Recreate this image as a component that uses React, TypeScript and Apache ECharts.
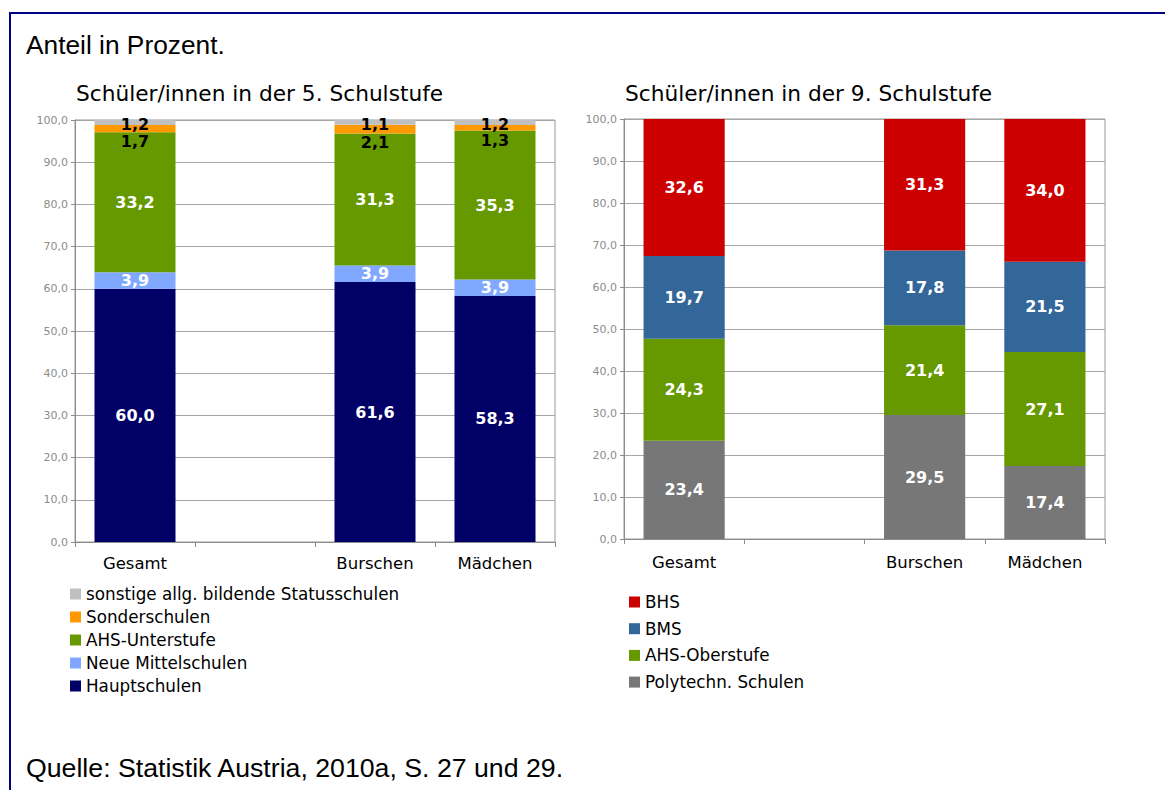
import React, { useEffect, useRef } from "react";
import * as echarts from "echarts";

const categories = ["Gesamt", "", "Burschen", "Mädchen"];

// 5. Schulstufe (bottom to top)
const hauptschulen = [60.0, "-", 61.6, 58.3];
const neueMittelschulen = [3.9, "-", 3.9, 3.9];
const ahsUnterstufe = [33.2, "-", 31.3, 35.3];
const sonderschulen = [1.7, "-", 2.1, 1.3];
const sonstige = [1.2, "-", 1.1, 1.2];

// 9. Schulstufe (bottom to top)
const polytechn = [23.4, "-", 29.5, 17.4];
const ahsOberstufe = [24.3, "-", 21.4, 27.1];
const bms = [19.7, "-", 17.8, 21.5];
const bhs = [32.6, "-", 31.3, 34.0];

const yTicks = { min: 0, max: 100, interval: 10 };

const FONT = "DejaVu Sans";
const fmt = (v: number) => v.toFixed(1).replace(".", ",");

export default function App() {
  const ref = useRef<HTMLDivElement>(null);
  useEffect(() => {
    if (!ref.current) return;
    const chart = echarts.init(ref.current, undefined, { renderer: "svg" });

    const barLabel = (color: string, extra: any = {}) => ({
      show: true,
      position: "inside",
      color,
      fontFamily: FONT,
      fontWeight: "bold",
      fontSize: 16,
      formatter: (p: any) => fmt(Number(p.value)),
      ...extra,
    });

    const mkSeries = (
      name: string,
      data: any[],
      color: string,
      idx: number,
      labelColor: string,
      labelExtra: any = {}
    ) => ({
      name,
      type: "bar",
      stack: idx === 0 ? "left" : "right",
      xAxisIndex: idx,
      yAxisIndex: idx,
      data,
      barWidth: "67.5%",
      itemStyle: { color },
      label: barLabel(labelColor, labelExtra),
      emphasis: { disabled: true },
    });

    const xAxis = (gridIndex: number, margin: number) => ({
      type: "category",
      gridIndex,
      data: categories,
      axisLine: { show: true, lineStyle: { color: "#8c8c8c", width: 1 } },
      axisTick: { show: true, length: 5, lineStyle: { color: "#8c8c8c" } },
      axisLabel: {
        color: "#000",
        fontFamily: FONT,
        fontSize: 16.5,
        margin,
        interval: 0,
      },
    });

    const yAxis = (gridIndex: number) => ({
      type: "value",
      gridIndex,
      min: yTicks.min,
      max: yTicks.max,
      interval: yTicks.interval,
      axisLine: { show: true, lineStyle: { color: "#8c8c8c", width: 1 } },
      axisTick: { show: true, length: 4, lineStyle: { color: "#8c8c8c" } },
      splitLine: { show: true, lineStyle: { color: "#a6a6a6", width: 1 } },
      axisLabel: {
        color: "#8c8c8c",
        fontFamily: FONT,
        fontSize: 11,
        margin: 7,
        formatter: (v: number) => fmt(v),
      },
    });

    const legendText = {
      color: "#000",
      fontFamily: FONT,
      fontSize: 16.8,
      lineHeight: 18,
    };

    chart.setOption({
      animation: false,
      backgroundColor: "#fff",
      grid: [
        { left: 75, top: 120, width: 480, height: 422, show: true, borderColor: "#999", borderWidth: 1, containLabel: false },
        { left: 624, top: 119, width: 481, height: 420, show: true, borderColor: "#999", borderWidth: 1, containLabel: false },
      ],
      xAxis: [xAxis(0, 13), xAxis(1, 15)],
      yAxis: [yAxis(0), yAxis(1)],
      legend: [
        {
          orient: "vertical",
          left: 70,
          top: 585,
          itemWidth: 11,
          itemHeight: 11,
          itemGap: 5,
          icon: "rect",
          selectedMode: false,
          padding: 0,
          textStyle: legendText,
          data: ["sonstige allg. bildende Statusschulen", "Sonderschulen", "AHS-Unterstufe", "Neue Mittelschulen", "Hauptschulen"],
        },
        {
          orient: "vertical",
          left: 629,
          top: 593,
          itemWidth: 11,
          itemHeight: 11,
          itemGap: 8.7,
          icon: "rect",
          selectedMode: false,
          padding: 0,
          textStyle: legendText,
          data: ["BHS", "BMS", "AHS-Oberstufe", "Polytechn. Schulen"],
        },
      ],
      graphic: [
        {
          type: "rect",
          shape: { x: 10, y: 13, width: 1300, height: 900 },
          style: { fill: "none", stroke: "#000080", lineWidth: 2 },
          silent: true,
        },
        {
          type: "text",
          style: { text: "Anteil in Prozent.", x: 26, y: 45, font: "26.3px 'Liberation Sans'", fill: "#000", verticalAlign: "middle" },
        },
        {
          type: "text",
          style: { text: "Schüler/innen in der 5. Schulstufe", x: 76, y: 93, font: "21.7px 'DejaVu Sans'", fill: "#000", verticalAlign: "middle" },
        },
        {
          type: "text",
          style: { text: "Schüler/innen in der 9. Schulstufe", x: 625, y: 93, font: "21.7px 'DejaVu Sans'", fill: "#000", verticalAlign: "middle" },
        },
        {
          type: "text",
          style: { text: "Quelle: Statistik Austria, 2010a, S. 27 und 29.", x: 26, y: 768, font: "26.7px 'Liberation Sans'", fill: "#000", verticalAlign: "middle" },
        },
      ],
      series: [
        mkSeries("Hauptschulen", hauptschulen, "#000066", 0, "#fff"),
        mkSeries("Neue Mittelschulen", neueMittelschulen, "#80A8FF", 0, "#fff"),
        mkSeries("AHS-Unterstufe", ahsUnterstufe, "#669900", 0, "#fff"),
        mkSeries("Sonderschulen", sonderschulen, "#FF9900", 0, "#000", { offset: [0, 13] }),
        mkSeries("sonstige allg. bildende Statusschulen", sonstige, "#C0C0C0", 0, "#000", { offset: [0, 2] }),
        mkSeries("Polytechn. Schulen", polytechn, "#777777", 1, "#fff"),
        mkSeries("AHS-Oberstufe", ahsOberstufe, "#669900", 1, "#fff"),
        mkSeries("BMS", bms, "#336699", 1, "#fff"),
        mkSeries("BHS", bhs, "#CC0000", 1, "#fff"),
      ],
    });
    return () => chart.dispose();
  }, []);

  return (
    <div
      ref={ref}
      style={{ position: "absolute", left: 0, top: 0, width: 1165, height: 790 }}
    />
  );
}
